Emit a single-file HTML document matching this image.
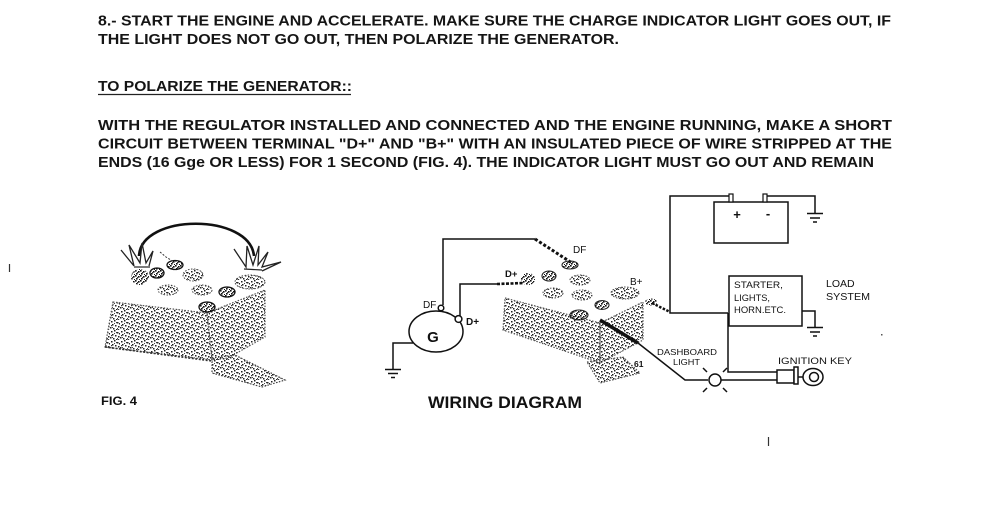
<!DOCTYPE html>
<html><head><meta charset="utf-8"><style>
html,body{margin:0;padding:0;background:#fff;}
svg{display:block;}
</style></head><body>
<svg width="990" height="506" viewBox="0 0 990 506" xmlns="http://www.w3.org/2000/svg" font-family="'Liberation Sans', Arial, sans-serif">
<defs>
<pattern id="st" width="10" height="10" patternUnits="userSpaceOnUse">
<rect x="1" y="1" width="1.5" height="1.5" fill="#222"/>
<rect x="4" y="0" width="1.5" height="1.5" fill="#222"/>
<rect x="7" y="2" width="1.5" height="1.5" fill="#222"/>
<rect x="2" y="4" width="1.5" height="1.5" fill="#222"/>
<rect x="5" y="5" width="1.5" height="1.5" fill="#222"/>
<rect x="8" y="6" width="1.5" height="1.5" fill="#222"/>
<rect x="0" y="7" width="1.5" height="1.5" fill="#222"/>
<rect x="3" y="8" width="1.5" height="1.5" fill="#222"/>
<rect x="6" y="9" width="1.5" height="1" fill="#222"/>
<rect x="9" y="3" width="1" height="1.5" fill="#222"/>
<rect x="1" y="5" width="1.2" height="1.2" fill="#333"/>
<rect x="6" y="2" width="1.2" height="1.2" fill="#333"/>
<rect x="8" y="9" width="1.2" height="1" fill="#333"/>
<rect x="4" y="3" width="1" height="1" fill="#444"/>
<rect x="2" y="7" width="1" height="1" fill="#444"/>
<rect x="7" y="8" width="1" height="1" fill="#444"/>
</pattern>
<pattern id="st2" width="5" height="5" patternUnits="userSpaceOnUse">
<rect x="0" y="0" width="1.6" height="1.6" fill="#111"/>
<rect x="3" y="1" width="1.6" height="1.6" fill="#111"/>
<rect x="1" y="3" width="1.6" height="1.6" fill="#111"/>
<rect x="4" y="4" width="1" height="1" fill="#111"/>
<rect x="2" y="2" width="1.2" height="1.2" fill="#333"/>
</pattern>
</defs>
<rect width="990" height="506" fill="#fff"/>

<!-- Body text -->
<g fill="#151515" font-weight="bold" font-size="14.5">
<text x="98" y="25.5" textLength="793" lengthAdjust="spacingAndGlyphs">8.- START THE ENGINE AND ACCELERATE. MAKE SURE THE CHARGE INDICATOR LIGHT GOES OUT, IF</text>
<text x="98" y="44" textLength="521" lengthAdjust="spacingAndGlyphs">THE LIGHT DOES NOT GO OUT, THEN POLARIZE THE GENERATOR.</text>
<text x="98" y="91" textLength="254" lengthAdjust="spacingAndGlyphs">TO POLARIZE THE GENERATOR::</text>
<text x="98" y="130" textLength="794" lengthAdjust="spacingAndGlyphs">WITH THE REGULATOR INSTALLED AND CONNECTED AND THE ENGINE RUNNING, MAKE A SHORT</text>
<text x="98" y="148.5" textLength="794" lengthAdjust="spacingAndGlyphs">CIRCUIT BETWEEN TERMINAL "D+" AND "B+" WITH AN INSULATED PIECE OF WIRE STRIPPED AT THE</text>
<text x="98" y="167" textLength="776" lengthAdjust="spacingAndGlyphs">ENDS (16 Gge  OR LESS) FOR 1 SECOND (FIG. 4). THE INDICATOR LIGHT MUST GO OUT AND REMAIN</text>
</g>
<line x1="98" y1="94.5" x2="351" y2="94.5" stroke="#222" stroke-width="1.3"/>

<!-- stray marks -->
<line x1="9.5" y1="264" x2="9.5" y2="272" stroke="#333" stroke-width="1.2"/>
<line x1="768.5" y1="437" x2="768.5" y2="446" stroke="#333" stroke-width="1.2"/>
<rect x="881" y="334" width="1.5" height="1.5" fill="#555"/>

<!-- ===== FIG 4 ===== -->
<g>
<polygon points="113,302 207,313 212,360 105,347" fill="url(#st)" stroke="#555" stroke-width="1.2" stroke-dasharray="1.5 1.5"/>
<polygon points="207,313 265,290 265,337 228,358 212,360" fill="url(#st)" stroke="#555" stroke-width="1.2" stroke-dasharray="1.5 1.5"/>
<polygon points="212,358 235,355 285,380 262,387 212,373" fill="url(#st)" stroke="#444" stroke-width="1.2" stroke-dasharray="1.5 1.5"/>
<line x1="105" y1="347" x2="212" y2="361" stroke="#333" stroke-width="1.6" stroke-dasharray="2 1.5"/>
<ellipse cx="140" cy="277" rx="9" ry="8" fill="url(#st2)"/>
<ellipse cx="157" cy="273" rx="7" ry="5" fill="url(#st2)" stroke="#111" stroke-width="1.3"/>
<ellipse cx="175" cy="265" rx="8" ry="4.5" fill="url(#st2)" stroke="#111" stroke-width="1.3"/>
<path d="M160,252 L166,257 L174,262" stroke="#333" stroke-width="1" fill="none" stroke-dasharray="2 1.5"/>
<ellipse cx="168" cy="290" rx="10" ry="5" fill="url(#st)" stroke="#444" stroke-width="1" stroke-dasharray="1.5 1.5"/>
<ellipse cx="193" cy="275" rx="10" ry="6" fill="url(#st)" stroke="#444" stroke-width="1" stroke-dasharray="1.5 1.5"/>
<ellipse cx="202" cy="290" rx="10" ry="5" fill="url(#st)" stroke="#444" stroke-width="1" stroke-dasharray="1.5 1.5"/>
<ellipse cx="227" cy="292" rx="8" ry="5" fill="url(#st2)" stroke="#111" stroke-width="1.3"/>
<ellipse cx="207" cy="307" rx="8" ry="5" fill="url(#st2)" stroke="#111" stroke-width="1.3"/>
<ellipse cx="250" cy="282" rx="15" ry="7" fill="url(#st)" stroke="#444" stroke-width="1" stroke-dasharray="1.5 1.5"/>
<path d="M139,256 C141,213 250,213 254,256" fill="none" stroke="#111" stroke-width="2.6"/>
<polyline points="121,250 134,266 129,245 140,263 142,243 146,263 153,251 149,266" fill="none" stroke="#222" stroke-width="1.3"/>
<line x1="134" y1="267" x2="150" y2="267" stroke="#222" stroke-width="1.2"/>
<polyline points="234,249 246,267 247,246 253,265 259,246 258,265 268,252 262,267 281,262 262,271" fill="none" stroke="#222" stroke-width="1.3"/>
<line x1="244" y1="269" x2="262" y2="270" stroke="#222" stroke-width="1.2"/>
<text x="101" y="405" font-size="12" font-weight="bold" fill="#111" textLength="36" lengthAdjust="spacingAndGlyphs">FIG. 4</text>
</g>

<!-- ===== WIRING DIAGRAM ===== -->
<g stroke="#111" fill="none" stroke-width="1.5">
<polyline points="443,305 443,239 535,239"/>
<line x1="535" y1="239" x2="572" y2="263" stroke-width="3" stroke-dasharray="3 2"/>
<polyline points="460,316 460,284 497,284"/>
<line x1="497" y1="284" x2="524" y2="283" stroke-width="2.6" stroke-dasharray="3 1.5"/>
<ellipse cx="436" cy="331.5" rx="27" ry="20.5"/>
<circle cx="441" cy="308" r="2.8" fill="#fff"/>
<circle cx="458.5" cy="319" r="3.4" fill="#fff"/>
<polyline points="413,343 393,343 393,369"/>
<line x1="385" y1="369.5" x2="401" y2="369.5"/>
<line x1="388" y1="373.5" x2="398" y2="373.5"/>
<line x1="391" y1="377.5" x2="395" y2="377.5"/>
</g>
<g fill="#111">
<text x="433" y="342" font-size="15" font-weight="bold" text-anchor="middle">G</text>
<text x="423" y="308" font-size="10">DF</text>
<text x="466" y="325" font-size="10" font-weight="bold">D+</text>
<text x="573" y="253" font-size="10">DF</text>
<text x="505" y="277" font-size="9.5" font-weight="bold">D+</text>
<text x="630" y="285" font-size="10">B+</text>
<text x="634" y="367" font-size="8.5" font-weight="bold">61</text>
<text x="428" y="408" font-size="17" font-weight="bold" textLength="154" lengthAdjust="spacingAndGlyphs">WIRING DIAGRAM</text>
</g>

<g>
<polygon points="505,298 600,323 600,363 503,330" fill="url(#st)" stroke="#555" stroke-width="1.2" stroke-dasharray="1.5 1.5"/>
<polygon points="600,323 643,302 643,340 600,363" fill="url(#st)" stroke="#555" stroke-width="1.2" stroke-dasharray="1.5 1.5"/>
<polygon points="587,362 623,357 640,373 600,383" fill="url(#st)" stroke="#555" stroke-width="1.2" stroke-dasharray="1.5 1.5"/>
<ellipse cx="528" cy="279" rx="7" ry="6" fill="url(#st2)"/>
<ellipse cx="549" cy="276" rx="7" ry="5" fill="url(#st2)" stroke="#222" stroke-width="1.1"/>
<ellipse cx="570" cy="265" rx="8" ry="4" fill="url(#st2)" stroke="#222" stroke-width="1.1"/>
<ellipse cx="580" cy="280" rx="10" ry="5" fill="url(#st)" stroke="#444" stroke-width="1" stroke-dasharray="1.5 1.5"/>
<ellipse cx="553" cy="293" rx="10" ry="5" fill="url(#st)" stroke="#444" stroke-width="1" stroke-dasharray="1.5 1.5"/>
<ellipse cx="582" cy="295" rx="10" ry="5" fill="url(#st)" stroke="#444" stroke-width="1" stroke-dasharray="1.5 1.5"/>
<ellipse cx="602" cy="305" rx="7" ry="4.5" fill="url(#st2)" stroke="#222" stroke-width="1.1"/>
<ellipse cx="579" cy="315" rx="9" ry="5" fill="url(#st2)" stroke="#222" stroke-width="1.1"/>
<ellipse cx="625" cy="293" rx="14" ry="6" fill="url(#st)" stroke="#444" stroke-width="1" stroke-dasharray="1.5 1.5"/>
<ellipse cx="651" cy="302" rx="6" ry="3.5" fill="url(#st2)"/>
</g>
<g stroke="#111" fill="none" stroke-width="1.5">
<line x1="652" y1="303" x2="670" y2="312" stroke-width="2.5" stroke-dasharray="2.5 1.5"/>
<line x1="600" y1="320" x2="638" y2="343" stroke-width="3.5"/>
<polyline points="638,343 685,380 708,380"/>
<rect x="714" y="202" width="74" height="41"/>
<rect x="729" y="194" width="4" height="8" fill="#fff" stroke-width="1.2"/>
<rect x="763" y="194" width="4" height="8" fill="#fff" stroke-width="1.2"/>
<polyline points="729,196 670,196 670,313 728,313"/>
<polyline points="767,196 815,196 815,213"/>
<line x1="807" y1="213.5" x2="823" y2="213.5"/>
<line x1="810" y1="218" x2="820" y2="218"/>
<line x1="813" y1="222" x2="817" y2="222"/>
<rect x="729" y="276" width="73" height="50"/>
<polyline points="802,311 815,311 815,327"/>
<line x1="807" y1="327.5" x2="823" y2="327.5"/>
<line x1="810" y1="332" x2="820" y2="332"/>
<line x1="813" y1="336" x2="817" y2="336"/>
<polyline points="728,313 728,372 777,372"/>
<circle cx="715" cy="380" r="6"/>
<line x1="707" y1="372" x2="703" y2="368"/>
<line x1="723" y1="372" x2="727" y2="368"/>
<line x1="707" y1="388" x2="703" y2="392"/>
<line x1="723" y1="388" x2="727" y2="392"/>
<line x1="721" y1="380" x2="777" y2="380"/>
<rect x="777" y="370" width="17" height="13" fill="#fff"/>
<rect x="794" y="367" width="4" height="17" fill="#fff"/>
<line x1="798" y1="377" x2="803" y2="377"/>
<ellipse cx="813" cy="377" rx="10" ry="8.5"/>
<circle cx="814" cy="377" r="4.5"/>
</g>
<g fill="#111">
<text x="737" y="219" font-size="13" font-weight="bold" text-anchor="middle">+</text>
<text x="768" y="218" font-size="13" font-weight="bold" text-anchor="middle">-</text>
<text x="734" y="288" font-size="9.5" textLength="49" lengthAdjust="spacingAndGlyphs">STARTER,</text>
<text x="734" y="301" font-size="9.5" textLength="36" lengthAdjust="spacingAndGlyphs">LIGHTS,</text>
<text x="734" y="313" font-size="9.5" textLength="52" lengthAdjust="spacingAndGlyphs">HORN.ETC.</text>
<text x="826" y="287" font-size="10.5">LOAD</text>
<text x="826" y="300" font-size="10.5" textLength="44" lengthAdjust="spacingAndGlyphs">SYSTEM</text>
<text x="657" y="355" font-size="8.5" textLength="60" lengthAdjust="spacingAndGlyphs">DASHBOARD</text>
<text x="673" y="365" font-size="8.5" textLength="27" lengthAdjust="spacingAndGlyphs">LIGHT</text>
<text x="778" y="364" font-size="9.5" textLength="74" lengthAdjust="spacingAndGlyphs">IGNITION KEY</text>
</g>
</svg>
</body></html>
